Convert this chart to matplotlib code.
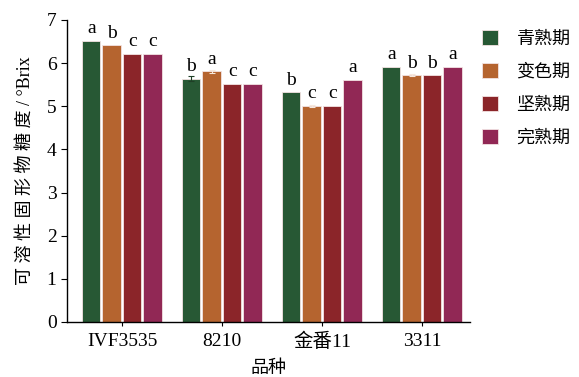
import matplotlib
matplotlib.use('Agg')
import matplotlib.pyplot as plt
import numpy as np

plt.rcParams['font.family'] = ['Liberation Serif', 'Noto Sans CJK SC']

varieties = ['IVF3535', '8210', '金番11', '3311']
stages = ['青熟期', '变色期', '坚熟期', '完熟期']
colors = ['#275834', '#B5642F', '#8B2529', '#912855']

green = [6.52, 5.64, 5.32, 5.92]
turning = [6.42, 5.81, 5.01, 5.72]
firm = [6.22, 5.52, 5.01, 5.72]
ripe = [6.22, 5.52, 5.61, 5.92]
# standard errors (most are too small to show)
errors = [[0.0, 0.05, 0.0, 0.0],
          [0.0, 0.03, 0.03, 0.03],
          [0.0, 0.0, 0.0, 0.0],
          [0.0, 0.0, 0.0, 0.0]]
letters = [['a', 'b', 'b', 'a'],
           ['b', 'a', 'c', 'b'],
           ['c', 'c', 'c', 'b'],
           ['c', 'c', 'a', 'a']]

series = [green, turning, firm, ripe]

fig = plt.figure(figsize=(5.79, 3.77), dpi=100)
ax = fig.add_axes([0.1157, 0.146, 0.696, 0.801])

x = np.arange(len(varieties))
width = 0.185
step = 0.205
for i, vals in enumerate(series):
    pos = x + (i - 1.5) * step
    ax.bar(pos, vals, width, color=colors[i], edgecolor='#f3e3e3',
           linewidth=0.6, label=stages[i], zorder=2)
    ecol = '#f6e8dc' if i == 1 else '#1f3f26'
    err = np.array(errors[i])
    shown = err > 0
    ax.errorbar(pos[shown], np.array(vals)[shown], yerr=err[shown], fmt='none',
                ecolor=ecol, elinewidth=0.8, capsize=2.5, capthick=0.8, zorder=3)
    for p, v, t in zip(pos, vals, letters[i]):
        ax.text(p, v + 0.08, t, ha='center', va='bottom', fontsize=14)

ax.set_xlim(-0.55, 3.48)
ax.set_ylim(0, 7)
ax.set_yticks(range(8))
ax.set_xticks(x)
ax.set_xticklabels(varieties)
ax.tick_params(axis='both', labelsize=14, direction='out', length=4, width=0.8)
ax.tick_params(axis='x', length=3, pad=5)
ax.spines['top'].set_visible(False)
ax.spines['right'].set_visible(False)
for s in ['left', 'bottom']:
    ax.spines[s].set_linewidth(1.0)
ax.set_xlabel('品种', fontsize=13, labelpad=6)
ax.set_ylabel('可 溶 性 固 形 物 糖 度 / °Brix', fontsize=13, labelpad=9)

ax.legend(loc='upper left', bbox_to_anchor=(0.99, 1.02), frameon=False,
          fontsize=13, handlelength=0.9, handleheight=0.9,
          labelspacing=0.85, handletextpad=1.0)

fig.savefig('out.png', dpi=100)
